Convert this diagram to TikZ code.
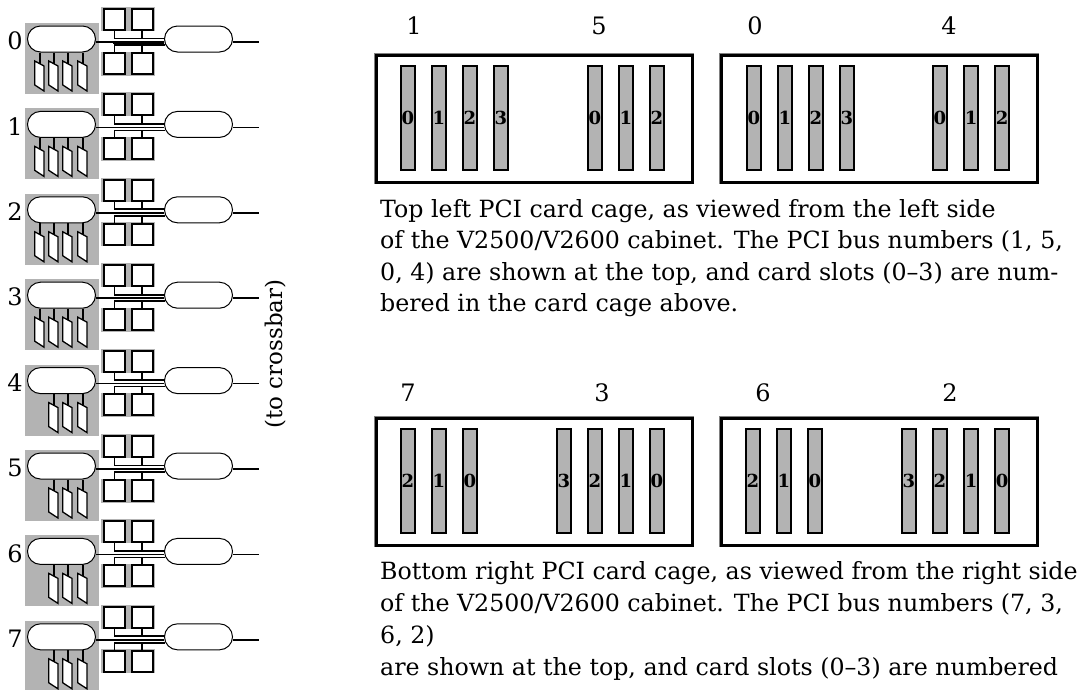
\documentclass[tikz,border=0pt]{standalone}
\usepackage{fontspec}
\setmainfont{DejaVu Serif}
\usetikzlibrary{shapes.misc}
\definecolor{panelgray}{HTML}{B3B3B3}
\begin{document}
\begin{tikzpicture}[x=1pt, y=-1pt,
    wire/.style={line width=1.7pt},
    pill/.style={draw, line width=1pt, fill=white, rounded rectangle, minimum width=68pt, minimum height=26pt, inner sep=0pt},
    memsq/.style={draw, line width=2pt, fill=white, minimum size=21pt, inner sep=0pt},
    cardbox/.style={draw, line width=1.3pt, fill=white},
    cagebox/.style={draw, line width=2.7pt, minimum width=316pt, minimum height=127pt, anchor=north west},
    slotbox/.style={draw, line width=1.6pt, fill=panelgray, minimum width=14.5pt, minimum height=104pt, inner sep=0pt, font=\bfseries\fontsize{18}{18}\selectfont},
    busnum/.style={font=\fontsize{24}{26}\selectfont},
    caption/.style={anchor=base west, inner sep=0pt, font=\fontsize{23.7}{26}\selectfont}]
    \useasboundingbox (0,0) rectangle (1084,689);

    % the eight rows on the left
    \foreach \r/\first in {0/1,1/1,2/1,3/1,4/2,5/2,6/2,7/2} {
        \begin{scope}[shift={(0,39+85.4*\r)}]
            \fill[panelgray] (25,-16) rectangle (99,55);
            \fill[panelgray] (101,-32) rectangle (155,-8);
            \fill[panelgray] (101,12.5) rectangle (155,36.5);

            \node[busnum] (num\r) at (15,2) {\r};
            \node[pill] (pmb\r) at (61.5,0) {};
            \node[pill] (agent\r) at (198.5,0) {};
            \node[memsq] (sqa\r) at (114.5,-19.5) {};
            \node[memsq] (sqb\r) at (142,-19.5) {};
            \node[memsq] (sqc\r) at (114.5,24.3) {};
            \node[memsq] (sqd\r) at (142,24.3) {};
            \coordinate (bust\r) at (165,-0.5);
            \coordinate (busb\r) at (165,6);
            \coordinate (out\r) at (259,3);

            \draw[wire] (sqa\r.south) |- (bust\r);
            \draw[wire] (sqb\r.south) -- (sqb\r.south |- bust\r);
            \draw[wire] (sqc\r.north) |- (busb\r);
            \draw[wire] (sqd\r.north) -- (sqd\r.north |- busb\r);
            \draw[wire] ([yshift=-3pt]pmb\r.east) -- ([yshift=-3pt]agent\r.west);
            \draw[wire] ([yshift=-3pt]agent\r.east) -- (out\r);

            \foreach \w [count=\k] in {40,54,68,83} {
                \ifnum\k<\first\else
                    \coordinate (card\r-\k) at (\w,25);
                    \draw[wire] (pmb\r.south -| card\r-\k) -- (card\r-\k);
                    \draw[cardbox] (\w-5.2,22) -- (\w+4,27) -- (\w+4,52) -- (\w-5.2,46) -- cycle;
                \fi
            }
        \end{scope}
    }
    \draw[line width=2.6pt] (113,43) -- (agent0.west |- 0,43);

    \node[rotate=90, font=\fontsize{23}{26}\selectfont] (cross) at (275.5,354) {(to crossbar)};

    % card cages
    \node[cagebox] (cagea) at (375,54) {};
    \node[cagebox] (cageb) at (720,54) {};
    \node[cagebox] (cagec) at (375,417) {};
    \node[cagebox] (caged) at (720,417) {};
    \foreach \c in {cagea,cageb,cagec,caged}
        \draw[gray, line width=1.2pt] ([shift={(-0.4,0)}]\c.south west) -- ([shift={(-0.4,-0.4)}]\c.north west) -- ([shift={(0,-0.4)}]\c.north east);

    \foreach \x/\t in {408/0,439/1,470/2,501/3,595/0,626/1,657/2}
        \node[slotbox] (slota\x) at (\x,118) {\raisebox{-7pt}{\t}};
    \foreach \x/\t in {754/0,785/1,816/2,847/3,940/0,971/1,1002/2}
        \node[slotbox] (slotb\x) at (\x,118) {\raisebox{-7pt}{\t}};
    \foreach \x/\t in {408/2,439/1,470/0,564/3,595/2,626/1,657/0}
        \node[slotbox] (slotc\x) at (\x,481) {\t};
    \foreach \x/\t in {753/2,784/1,815/0,909/3,940/2,971/1,1002/0}
        \node[slotbox] (slotd\x) at (\x,481) {\t};

    \foreach \x/\t in {414/1,599/5,755/0,949/4}
        \node[busnum] (top\x) at (\x,26) {\t};
    \foreach \x/\t in {408/7,602/3,763/6,950/2}
        \node[busnum] (bot\x) at (\x,393) {\t};

    \node[caption] (capa) at (380,217) {Top left PCI card cage, as viewed from the left side};
    \node[caption] (capb) at (380,248) {of the V2500/V2600 cabinet. The PCI bus numbers (1, 5,};
    \node[caption] (capc) at (380,280) {0, 4) are shown at the top, and card slots (0–3) are num-};
    \node[caption] (capd) at (380,311) {bered in the card cage above.};

    \node[caption] (cape) at (380,579) {Bottom right PCI card cage, as viewed from the right side};
    \node[caption] (capf) at (380,611) {of the V2500/V2600 cabinet. The PCI bus numbers (7, 3,};
    \node[caption] (capg) at (380,643) {6, 2)};
    \node[caption] (caph) at (380,675) {are shown at the top, and card slots (0–3) are numbered};
\end{tikzpicture}
\end{document}
